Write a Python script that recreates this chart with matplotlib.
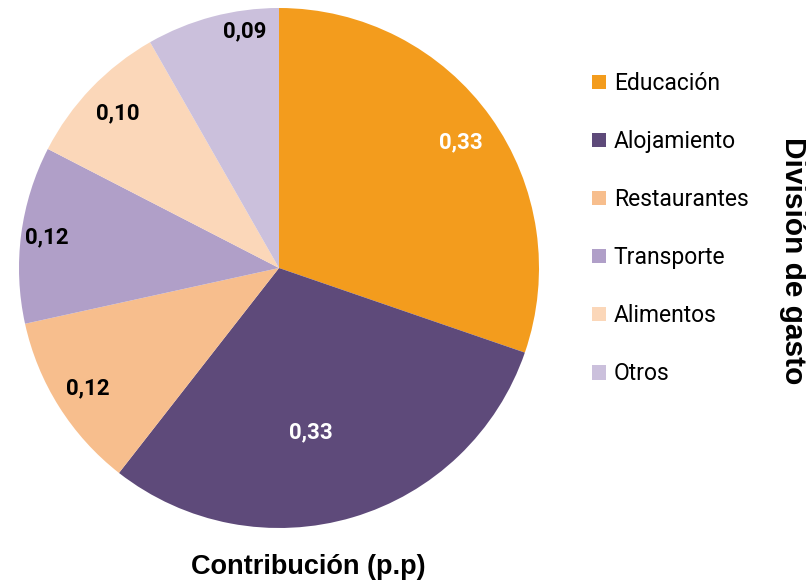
import matplotlib
matplotlib.use("Agg")
import matplotlib.pyplot as plt
import numpy as np
from matplotlib.patches import Patch

categories = ["Educación", "Alojamiento", "Restaurantes", "Transporte", "Alimentos", "Otros"]
values = [0.33, 0.33, 0.12, 0.12, 0.10, 0.09]
labels = ["0,33", "0,33", "0,12", "0,12", "0,10", "0,09"]
colors = ["#F39C1D", "#5E4A7A", "#F7BE8D", "#B09FC8", "#FBD7B9", "#CBC0DC"]
label_colors = ["white", "white", "black", "black", "black", "black"]
label_radius = [0.85, 0.645, 0.87, 0.90, 0.86, 0.92]
label_angle_shift = [-1, -5.5, 0, 0, 0, -6.5]

W, H = 806, 582
fig = plt.figure(figsize=(W / 100, H / 100), dpi=100)
cx, cy, R = 279, 268, 260
ax = fig.add_axes([(cx - R) / W, (H - cy - R) / H, 2 * R / W, 2 * R / H])
wedges, _ = ax.pie(values, colors=colors, startangle=90, counterclock=False,
                   radius=1, wedgeprops=dict(linewidth=0))
ax.set_xlim(-1, 1)
ax.set_ylim(-1, 1)
ax.set_aspect("equal")
ax.axis("off")

for w, lab, lc, rf, sh in zip(wedges, labels, label_colors, label_radius, label_angle_shift):
    mid = np.deg2rad((w.theta1 + w.theta2) / 2 + sh)
    ax.text(rf * np.cos(mid), rf * np.sin(mid), lab, ha="center", va="center",
            color=lc, fontsize=16, fontweight="bold", family="Roboto")

handles = [Patch(facecolor=c, edgecolor="none") for c in colors]
leg = fig.legend(handles, categories, loc="upper left", bbox_to_anchor=(592 / W, 1 - 72 / H),
                 frameon=False, prop=dict(family="Roboto", size=16.5),
                 handlelength=0.6, handleheight=0.6, handletextpad=0.35,
                 labelspacing=1.53, borderaxespad=0, borderpad=0)

fig.text(308 / W, 1 - 567 / H, "Contribución (p.p)", ha="center", va="center",
         fontsize=19.5, fontweight="bold", family="Liberation Sans")
fig.text(793 / W, 1 - 261 / H, "División de gasto", ha="center", va="center",
         rotation=-90, fontsize=21.5, fontweight="bold", family="Liberation Sans")

fig.savefig("out.png", dpi=100)
